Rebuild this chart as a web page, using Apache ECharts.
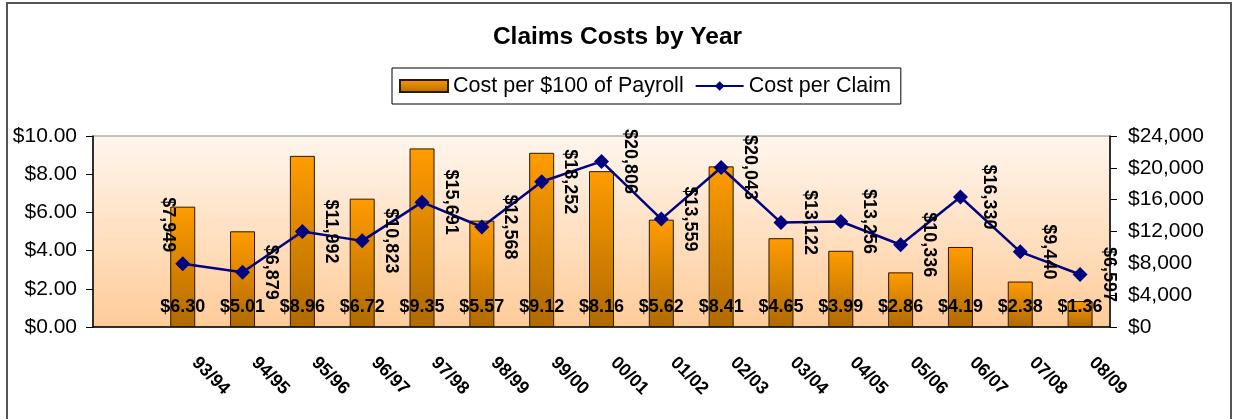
<!DOCTYPE html>
<html>
<head>
<meta charset="utf-8">
<title>Claims Costs by Year</title>
<script src="https://cdn.jsdelivr.net/npm/echarts@6.0.0/dist/echarts.min.js"></script>
<style>
  html,body{margin:0;padding:0;background:#fff;}
  #chart{width:1235px;height:419px;}
</style>
</head>
<body>
<div id="chart"></div>
<script>
  // fiscal years, the first slot on the axis is left empty like the original sheet
  var years = ['93/94','94/95','95/96','96/97','97/98','98/99','99/00','00/01',
               '01/02','02/03','03/04','04/05','05/06','06/07','07/08','08/09'];
  var costPerPayroll = [6.30, 5.01, 8.96, 6.72, 9.35, 5.57, 9.12, 8.16,
                        5.62, 8.41, 4.65, 3.99, 2.86, 4.19, 2.38, 1.36];
  var costPerClaim = [7949, 6879, 11992, 10823, 15691, 12568, 18252, 20806,
                      13559, 20043, 13122, 13256, 10336, 16330, 9440, 6597];
  var leftTicks = [0, 10, 2];
  var rightTicks = [0, 24000, 4000];

  var font = 'Liberation Sans, Arial, sans-serif';

  var chart = echarts.init(document.getElementById('chart'));

  var money2 = function (v) {
    return '$' + v.toFixed(2);
  };
  var money0 = function (v) {
    return '$' + Math.round(v).toString().replace(/\B(?=(\d{3})+(?!\d))/g, ',');
  };

  var cats = [''].concat(years);
  var barData = ['-'].concat(costPerPayroll);
  var lineData = ['-'].concat(costPerClaim).map(function (v, i) {
    if (i === 1) {
      // first label sits up and to the left of its point
      return { value: v, label: { position: [-7.5, -31.5] } };
    }
    return v;
  });

  var option = {
    animation: false,
    backgroundColor: '#fff',
    textStyle: { fontFamily: font },
    title: {
      text: 'Claims Costs by Year',
      left: 'center',
      top: 20,
      textStyle: { fontFamily: font, fontSize: 24.5, fontWeight: 'bold', color: '#000' }
    },
    legend: {
      left: 392,
      top: 68,
      padding: [7, 10, 7, 7],
      itemGap: 11,
      itemWidth: 48,
      itemHeight: 12,
      borderColor: '#000',
      borderWidth: 1,
      backgroundColor: '#fff',
      textStyle: { fontFamily: font, fontSize: 21.5, color: '#000' },
      data: [
        { name: 'Cost per $100 of Payroll', icon: 'rect' },
        { name: 'Cost per Claim' }
      ]
    },
    graphic: [{
      type: 'rect',
      shape: { x: 7, y: 3, width: 1224, height: 500 },
      style: { fill: 'none', stroke: '#555', lineWidth: 2 },
      silent: true
    }],
    grid: {
      left: 93,
      right: 125,
      top: 136,
      bottom: 92,
      outerBoundsMode: 'none',
      show: true,
      borderColor: '#888',
      borderWidth: 1,
      backgroundColor: new echarts.graphic.LinearGradient(0, 0, 0, 1, [
        { offset: 0, color: '#FFF6EE' },
        { offset: 1, color: '#FFCB98' }
      ])
    },
    xAxis: {
      type: 'category',
      data: cats,
      axisLine: { lineStyle: { color: '#000', width: 1.5 } },
      axisTick: { length: 7, lineStyle: { color: '#333' } },
      axisLabel: {
        interval: 0,
        rotate: -45,
        margin: 21,
        padding: [0, 0, 0, 17],
        color: '#000',
        fontFamily: font,
        fontSize: 18,
        fontWeight: 'bold'
      }
    },
    yAxis: [{
      type: 'value',
      min: leftTicks[0],
      max: leftTicks[1],
      interval: leftTicks[2],
      position: 'left',
      splitLine: { show: false },
      axisLine: { show: true, lineStyle: { color: '#000', width: 1.5 } },
      axisTick: { show: true, length: 7, lineStyle: { color: '#000' } },
      axisLabel: {
        margin: 16,
        color: '#000',
        fontFamily: font,
        fontSize: 21,
        formatter: money2
      }
    }, {
      type: 'value',
      min: rightTicks[0],
      max: rightTicks[1],
      interval: rightTicks[2],
      position: 'right',
      splitLine: { show: false },
      axisLine: { show: true, lineStyle: { color: '#000', width: 1.5 } },
      axisTick: { show: true, length: 7, lineStyle: { color: '#000' } },
      axisLabel: {
        margin: 18,
        color: '#000',
        fontFamily: font,
        fontSize: 21,
        formatter: money0
      }
    }],
    series: [{
      name: 'Cost per $100 of Payroll',
      type: 'bar',
      yAxisIndex: 0,
      barWidth: 25,
      itemStyle: {
        color: new echarts.graphic.LinearGradient(0, 0, 0, 1, [
          { offset: 0, color: '#FF9C00' },
          { offset: 1, color: '#B06A00' }
        ]),
        borderColor: '#2a1a00',
        borderWidth: 1
      },
      label: {
        show: true,
        position: 'insideBottom',
        distance: 11,
        color: '#000',
        fontFamily: font,
        fontSize: 18,
        fontWeight: 'bold',
        formatter: function (p) { return money2(p.value); }
      },
      data: barData
    }, {
      name: 'Cost per Claim',
      type: 'line',
      yAxisIndex: 1,
      symbol: 'diamond',
      symbolSize: 15,
      lineStyle: { color: '#000080', width: 2.5 },
      itemStyle: { color: '#000080' },
      label: {
        show: true,
        position: 'right',
        distance: 21,
        rotate: -90,
        align: 'center',
        verticalAlign: 'middle',
        color: '#000',
        fontFamily: font,
        fontSize: 18,
        fontWeight: 'bold',
        formatter: function (p) { return money0(p.value); }
      },
      data: lineData
    }]
  };

  chart.setOption(option);
</script>
</body>
</html>
